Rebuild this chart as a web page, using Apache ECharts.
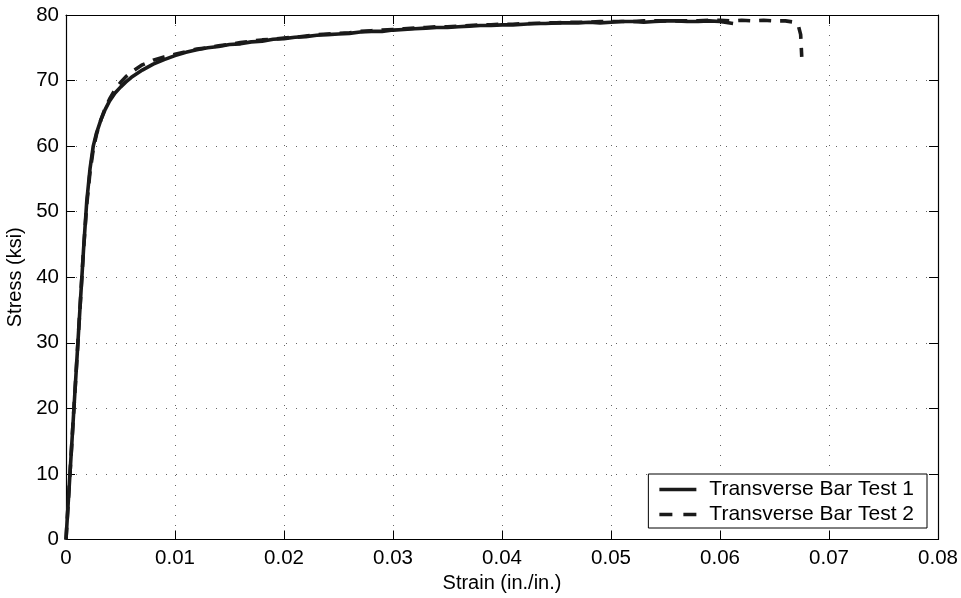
<!DOCTYPE html>
<html>
<head>
<meta charset="utf-8">
<script src="https://cdn.jsdelivr.net/npm/echarts@6/dist/echarts.min.js"></script>
<style>
html,body{margin:0;padding:0;background:#fff;}
#chart{width:961px;height:598px;}
</style>
</head>
<body>
<div id="chart"></div>
<script>
// ---- data ----
const seriesNames = ['Transverse Bar Test 1', 'Transverse Bar Test 2'];
const xTicks = [0, 0.01, 0.02, 0.03, 0.04, 0.05, 0.06, 0.07, 0.08];
const yTicks = [0, 10, 20, 30, 40, 50, 60, 70, 80];

const strain1 = [0, 0.0004, 0.0008, 0.0012, 0.0016, 0.0019, 0.0022, 0.0025, 0.0028, 0.0032, 0.0036, 0.004, 0.0045, 0.005, 0.0055, 0.006, 0.007, 0.008, 0.009, 0.010, 0.011, 0.012, 0.013, 0.014, 0.015, 0.016, 0.017, 0.018, 0.019, 0.020, 0.021, 0.022, 0.023, 0.024, 0.025, 0.026, 0.027, 0.028, 0.029, 0.030, 0.031, 0.032, 0.033, 0.034, 0.035, 0.036, 0.037, 0.038, 0.039, 0.040, 0.041, 0.042, 0.043, 0.044, 0.045, 0.046, 0.047, 0.048, 0.049, 0.050, 0.051, 0.052, 0.053, 0.054, 0.055, 0.056, 0.057, 0.058, 0.059, 0.060, 0.0612];
const stress1 = [0, 11, 22, 33, 44, 51.5, 56.5, 60, 62, 64, 65.6, 66.9, 68.1, 69.0, 69.8, 70.5, 71.6, 72.5, 73.2, 73.8, 74.3, 74.7, 75.0, 75.2, 75.5, 75.6, 75.9, 76.0, 76.3, 76.4, 76.6, 76.7, 76.9, 77.0, 77.1, 77.2, 77.4, 77.5, 77.5, 77.7, 77.8, 77.9, 78.0, 78.1, 78.1, 78.2, 78.3, 78.4, 78.4, 78.5, 78.5, 78.6, 78.7, 78.7, 78.8, 78.8, 78.8, 78.9, 78.8, 78.9, 79.0, 79.0, 78.9, 79.0, 79.1, 79.1, 79.0, 79.0, 79.1, 79.0, 78.7];

const strain2 = [0, 0.0004, 0.0008, 0.0012, 0.0016, 0.0019, 0.0022, 0.0025, 0.0028, 0.0032, 0.0036, 0.004, 0.0045, 0.005, 0.0055, 0.006, 0.007, 0.008, 0.009, 0.010, 0.011, 0.012, 0.013, 0.014, 0.015, 0.016, 0.017, 0.018, 0.019, 0.020, 0.021, 0.022, 0.023, 0.024, 0.025, 0.026, 0.027, 0.028, 0.029, 0.030, 0.031, 0.032, 0.033, 0.034, 0.035, 0.036, 0.037, 0.038, 0.039, 0.040, 0.041, 0.042, 0.043, 0.044, 0.045, 0.046, 0.047, 0.048, 0.049, 0.050, 0.051, 0.052, 0.053, 0.054, 0.055, 0.056, 0.057, 0.058, 0.059, 0.060, 0.061, 0.062, 0.063, 0.064, 0.065, 0.066, 0.0668, 0.0672, 0.0674, 0.0675];
const stress2 = [0, 11, 22, 33, 44, 51, 56, 59.5, 61.8, 64, 65.8, 67.2, 68.6, 69.7, 70.6, 71.3, 72.4, 73.1, 73.6, 74.0, 74.4, 74.8, 75.0, 75.3, 75.5, 75.8, 76.0, 76.2, 76.3, 76.5, 76.6, 76.8, 77.0, 77.1, 77.2, 77.3, 77.5, 77.6, 77.7, 77.8, 77.9, 78.0, 78.1, 78.2, 78.2, 78.3, 78.4, 78.5, 78.5, 78.6, 78.6, 78.7, 78.7, 78.8, 78.8, 78.9, 78.9, 78.9, 79.0, 79.0, 79.0, 79.0, 79.1, 79.1, 79.1, 79.1, 79.1, 79.1, 79.2, 79.2, 79.1, 79.2, 79.1, 79.2, 79.1, 79.1, 78.9, 78.3, 77.0, 73.6];

// ---- chart ----
const FONT = 'Liberation Sans, Arial, Helvetica, sans-serif';
const INK = '#1a1a1a';
const chart = echarts.init(document.getElementById('chart'), null, {renderer: 'canvas'});

function zip(xs, ys) { return xs.map((x, i) => [x, ys[i]]); }

const gridDots = {show: true, lineStyle: {color: '#666', width: 1, type: [1, 9]}};
const tickIn = {show: true, inside: true, length: 9, lineStyle: {color: '#000', width: 1}};
const axLine = {show: true, onZero: false, lineStyle: {color: '#000', width: 1.2}};

const option = {
  animation: false,
  backgroundColor: '#fff',
  textStyle: {fontFamily: FONT},
  grid: {left: 66, top: 15, right: 23, bottom: 58.5, containLabel: false, outerBoundsMode: 'none'},
  xAxis: [
    {
      type: 'value', min: xTicks[0], max: xTicks[xTicks.length - 1], interval: 0.01,
      position: 'bottom',
      name: 'Strain (in./in.)', nameLocation: 'middle', nameGap: 30,
      nameTextStyle: {fontSize: 20, color: '#000', fontFamily: FONT},
      axisLine: axLine, axisTick: tickIn,
      axisLabel: {fontSize: 20.5, color: '#000', margin: 8, fontFamily: FONT,
        formatter: v => v === 0 ? '0' : v.toFixed(2)},
      splitLine: gridDots
    },
    {
      type: 'value', min: xTicks[0], max: xTicks[xTicks.length - 1], interval: 0.01,
      position: 'top', axisLine: axLine, axisTick: tickIn,
      axisLabel: {show: false}, splitLine: {show: false}
    }
  ],
  yAxis: [
    {
      type: 'value', min: yTicks[0], max: yTicks[yTicks.length - 1], interval: 10,
      position: 'left',
      name: 'Stress (ksi)', nameLocation: 'middle', nameGap: 37,
      nameTextStyle: {fontSize: 20, color: '#000', fontFamily: FONT},
      axisLine: axLine, axisTick: tickIn,
      axisLabel: {fontSize: 20.5, color: '#000', margin: 7, fontFamily: FONT},
      splitLine: gridDots
    },
    {
      type: 'value', min: yTicks[0], max: yTicks[yTicks.length - 1], interval: 10,
      position: 'right', axisLine: axLine, axisTick: tickIn,
      axisLabel: {show: false}, splitLine: {show: false}
    }
  ],
  legend: {
    orient: 'vertical',
    right: 34, bottom: 70,
    backgroundColor: '#fff',
    borderColor: '#000', borderWidth: 1, borderRadius: 0,
    padding: [5, 13, 3, 11],
    itemGap: 4,
    itemWidth: 37, itemHeight: 3.6,
    symbolKeepAspect: false,
    textStyle: {fontSize: 21, color: '#000', fontFamily: FONT, padding: [0, 0, 0, 8]},
    data: [
      {name: seriesNames[0], icon: 'path://M0,0H37V3H0Z', itemStyle: {color: INK}},
      {name: seriesNames[1], icon: 'path://M0,0H13V3H0Z M24,0H37V3H24Z', itemStyle: {color: INK}}
    ]
  },
  series: [
    {
      name: seriesNames[0], type: 'line', showSymbol: false, symbol: 'none',
      data: zip(strain1, stress1), xAxisIndex: 0, yAxisIndex: 0,
      lineStyle: {color: INK, width: 3.6, type: 'solid'}, itemStyle: {color: INK},
      z: 3
    },
    {
      name: seriesNames[1], type: 'line', showSymbol: false, symbol: 'none',
      data: zip(strain2, stress2), xAxisIndex: 0, yAxisIndex: 0,
      lineStyle: {color: INK, width: 3.6, type: [12, 9]}, itemStyle: {color: INK},
      z: 4
    }
  ]
};
chart.setOption(option);
</script>
</body>
</html>
